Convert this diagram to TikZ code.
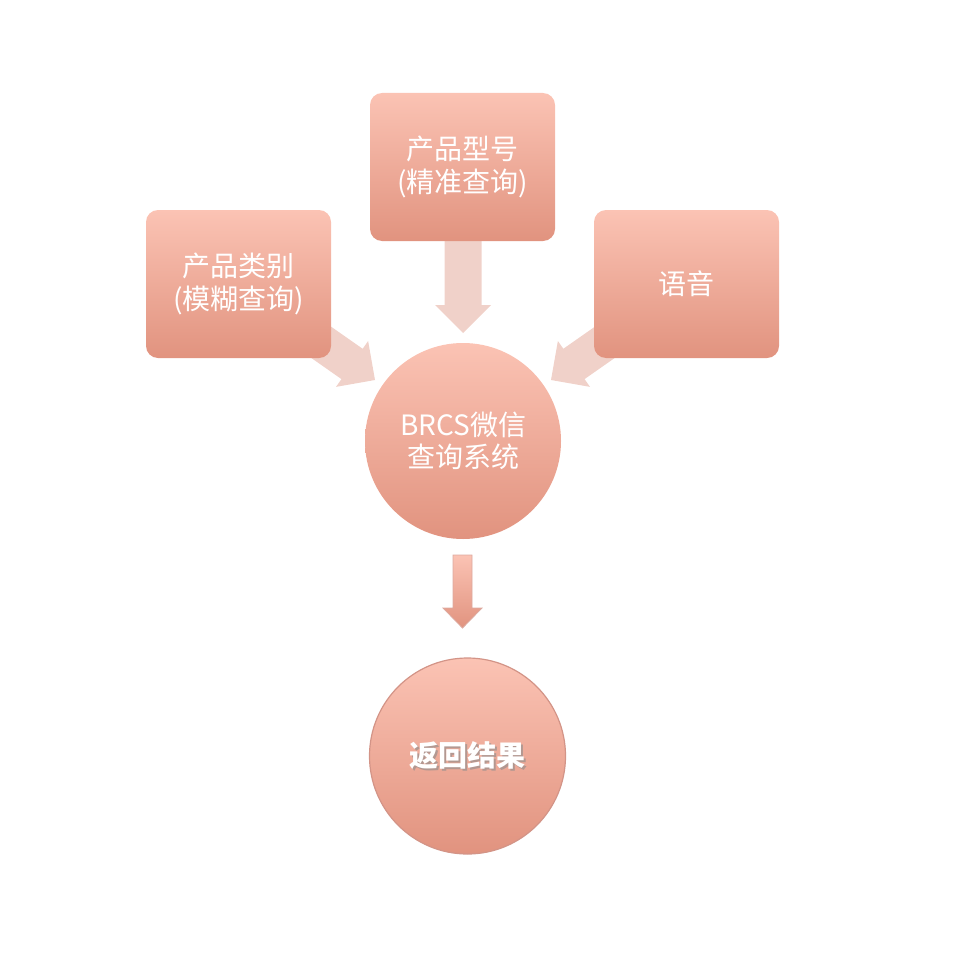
\documentclass[tikz,border=0pt]{standalone}
\usepackage{fontspec}
\usetikzlibrary{calc}
\newfontfamily\cjk{Noto Sans CJK SC}
\definecolor{gtop}{HTML}{FBC3B4}
\definecolor{gbot}{HTML}{E1937F}
\definecolor{arrowpale}{HTML}{F0D1C9}
\definecolor{ringc}{HTML}{D39487}
\tikzset{
  gradbox/.style={rectangle, rounded corners=12pt, minimum width=185pt, minimum height=148pt,
    top color=gtop, bottom color=gbot, text=white, align=center,
    font=\cjk\fontsize{28}{33}\selectfont},
  gradcircle/.style={circle, minimum size=196pt, inner sep=0pt,
    top color=gtop, bottom color=gbot, text=white, align=center,
    font=\cjk\fontsize{28}{32}\selectfont},
  palearrow/.style={fill=arrowpale, draw=none},
}
\newcommand{\blockarrow}[1]{%
  (0,0) -- (-28,28) -- (-28,18.5) -- (-#1,18.5) -- (-#1,-18.5) -- (-28,-18.5) -- (-28,-28) -- cycle}
\begin{document}
\begin{tikzpicture}[x=1pt, y=1pt, yscale=-1]
\useasboundingbox (0,0) rectangle (960,971);
% pale arrows (behind boxes)
\begin{scope}[shift={(375,380)}, rotate=35]
  \fill[palearrow] \blockarrow{80};
\end{scope}
\begin{scope}[shift={(463,333)}, rotate=90]
  \fill[palearrow] \blockarrow{100};
\end{scope}
\begin{scope}[shift={(551,380)}, rotate=145]
  \fill[palearrow] \blockarrow{80};
\end{scope}
% boxes
\node[gradbox] (cat) at (238.5,284) {产品类别\\(模糊查询)};
\node[gradbox] (model) at (462.5,167) {产品型号\\(精准查询)};
\node[gradbox] (voice) at (686.5,284) {语音};
% center circle
\node[gradcircle] (sys) at (463,441) {BRCS微信\\查询系统};
% down arrow
\coordinate (dtip) at (462.5,628);
\shade[top color=gtop, bottom color=gbot, draw=ringc!80, line width=0.8pt]
  (462.5,628) -- (443,608) -- (453,608) -- (453,555) -- (472,555) -- (472,608) -- (482,608) -- cycle;
% result circle
\node[gradcircle, draw=ringc, line width=1.2pt] (res) at (467.5,756) {};
\node[text=black!45, font=\cjk\bfseries\fontsize{29}{32}\selectfont, opacity=0.6] (resshadow) at ($(res.center)+(1.5,1.5)$) {返回结果};
\node[text=white, font=\cjk\bfseries\fontsize{29}{32}\selectfont] (restext) at (res.center) {返回结果};
\end{tikzpicture}
\end{document}
